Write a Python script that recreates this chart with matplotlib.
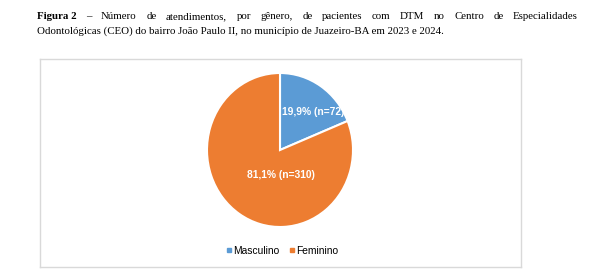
import matplotlib
matplotlib.use("Agg")
import matplotlib.pyplot as plt
from matplotlib.lines import Line2D

categories = ["Masculino", "Feminino"]
counts = [72, 310]
labels = ["19,9% (n=72)", "81,1% (n=310)"]
colors = ["#5B9BD5", "#ED7D31"]

title_bold = "Figura 2"
title_line1 = "– Número de atendimentos, por gênero, de pacientes com DTM no Centro de Especialidades"
title_line2 = "Odontológicas (CEO) do bairro João Paulo II, no município de Juazeiro-BA em 2023 e 2024."

W, H = 600, 270
fig = plt.figure(figsize=(W / 100, H / 100), dpi=100)
fig.patch.set_facecolor("white")

# frame
frame_ax = fig.add_axes([40 / W, 3 / H, 481 / W, 208 / H], zorder=0)
frame_ax.set_xticks([])
frame_ax.set_yticks([])
for s in frame_ax.spines.values():
    s.set_color("#D9D9D9")
    s.set_linewidth(1.0)

# pie (slightly elliptical as in the reference)
cx, cy, rx, ry = 280, 120, 73, 77
ax = fig.add_axes([(cx - rx) / W, (cy - ry) / H, 2 * rx / W, 2 * ry / H], zorder=2)
wedges, _ = ax.pie(counts, colors=colors, startangle=90, counterclock=False,
                   wedgeprops=dict(edgecolor="white", linewidth=1.5))
ax.set_aspect("auto")
ax.set_xlim(-1, 1)
ax.set_ylim(-1, 1)
ax.axis("off")

ax.text(0.46, 0.49, labels[0], color="white", fontsize=7.4, fontweight="bold",
        family="Liberation Sans", ha="center", va="center")
ax.text(0.01, -0.32, labels[1], color="white", fontsize=7.4, fontweight="bold",
        family="Liberation Sans", ha="center", va="center")

handles = [Line2D([], [], marker="s", linestyle="none", markersize=3, color=c) for c in colors]
leg = fig.legend(handles, categories, loc="center", bbox_to_anchor=(282 / W, 19 / H), ncol=2,
                 frameon=False, prop=dict(family="Liberation Sans", size=7.4),
                 handletextpad=0.1, columnspacing=0.9, handlelength=0.6)
leg.set_zorder(3)

# title (line 1 justified between x0 and x1)
fs = 7.8
x0, x1 = 37, 578
y1, y2 = 1 - 16.5 / H, 1 - 31 / H
fig.canvas.draw()
renderer = fig.canvas.get_renderer()
words = [(title_bold, "bold")] + [(w, "normal") for w in title_line1.split(" ")]
objs = []
total = 0
for w, wt in words:
    t = fig.text(0, y1, w, fontsize=fs, fontweight=wt, family="Liberation Serif",
                 va="center", ha="left")
    bb = t.get_window_extent(renderer)
    objs.append((t, bb.width))
    total += bb.width
gap = (x1 - x0 - total) / (len(objs) - 1)
x = x0
for t, wdt in objs:
    t.set_x(x / W)
    x += wdt + gap
fig.text(x0 / W, y2, title_line2, fontsize=fs, family="Liberation Serif",
         va="center", ha="left")

fig.savefig("out.png", dpi=100)
